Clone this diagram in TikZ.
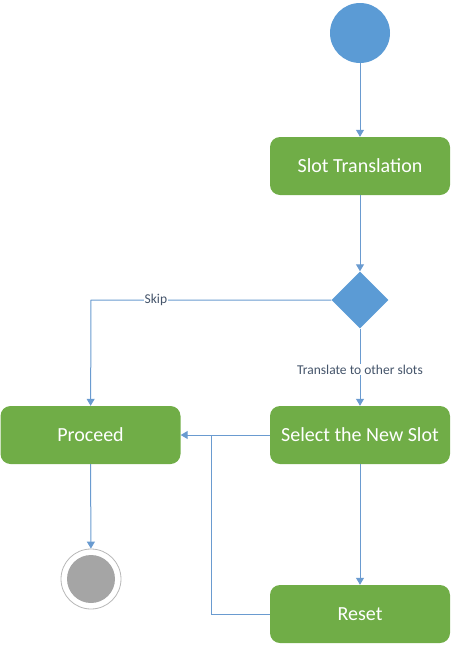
\documentclass[tikz,border=0pt]{standalone}
\usepackage{fontspec}
\setmainfont{Carlito}
\usetikzlibrary{arrows.meta,shapes.geometric}
\definecolor{azulInicio}{HTML}{5B9BD5}
\definecolor{verdeAccion}{HTML}{70AD47}
\definecolor{lineaFlujo}{HTML}{6A9BD0}
\definecolor{textoGuarda}{HTML}{44546A}
\definecolor{grisFin}{HTML}{A5A5A5}

\begin{document}
\begin{tikzpicture}[x=1pt,y=-1pt,>={Triangle[width=8pt,length=7pt]},
  accion/.style={rectangle,rounded corners=10pt,fill=verdeAccion,
    minimum width=180pt,minimum height=58pt,text=white,font=\fontsize{20}{22}\selectfont},
  flujo/.style={draw=lineaFlujo,line width=1pt},
  guarda/.style={font=\fontsize{13.5}{15}\selectfont,text=textoGuarda,fill=white,inner sep=1pt}]
  \useasboundingbox (0,0) rectangle (451,646);
  \node[circle,fill=azulInicio,minimum size=60pt,inner sep=0] (inicio) at (360,33) {};
  \node[accion] (traduccion) at (360,166) {Slot Translation};
  \node[diamond,fill=azulInicio,minimum size=57pt,inner sep=0] (decision) at (360,300) {};
  \node[accion] (seleccion) at (360,435) {Select the New Slot};
  \node[accion] (proceder) at (90.5,435) {Proceed};
  \node[accion] (reinicio) at (360,614) {Reset};
  \node[circle,draw=grisFin!80,line width=.8pt,minimum size=60pt,inner sep=0] (fin) at (91,579) {};
  \node[circle,fill=grisFin,minimum size=48pt,inner sep=0] at (fin) {};
  \coordinate (esquinaSalto) at (91,300);
  \coordinate (esquinaBucle) at (211,614);
  \coordinate (uneBucle) at (211,435);

  \draw[flujo,->] (inicio) -- (traduccion);
  \draw[flujo,->] (traduccion) -- (decision);
  \draw[flujo,->] (decision) -- node[guarda,pos=.53]{Translate to other slots} (seleccion);
  \draw[flujo,->] (decision.west) -- node[guarda,pos=.73]{Skip} (esquinaSalto) -- (proceder);
  \draw[flujo,->] (seleccion) -- (proceder);
  \draw[flujo,->] (seleccion) -- (reinicio);
  \draw[flujo] (reinicio.west) -- (esquinaBucle) -- (uneBucle);
  \draw[flujo,->] (proceder) -- (fin);
\end{tikzpicture}
\end{document}
